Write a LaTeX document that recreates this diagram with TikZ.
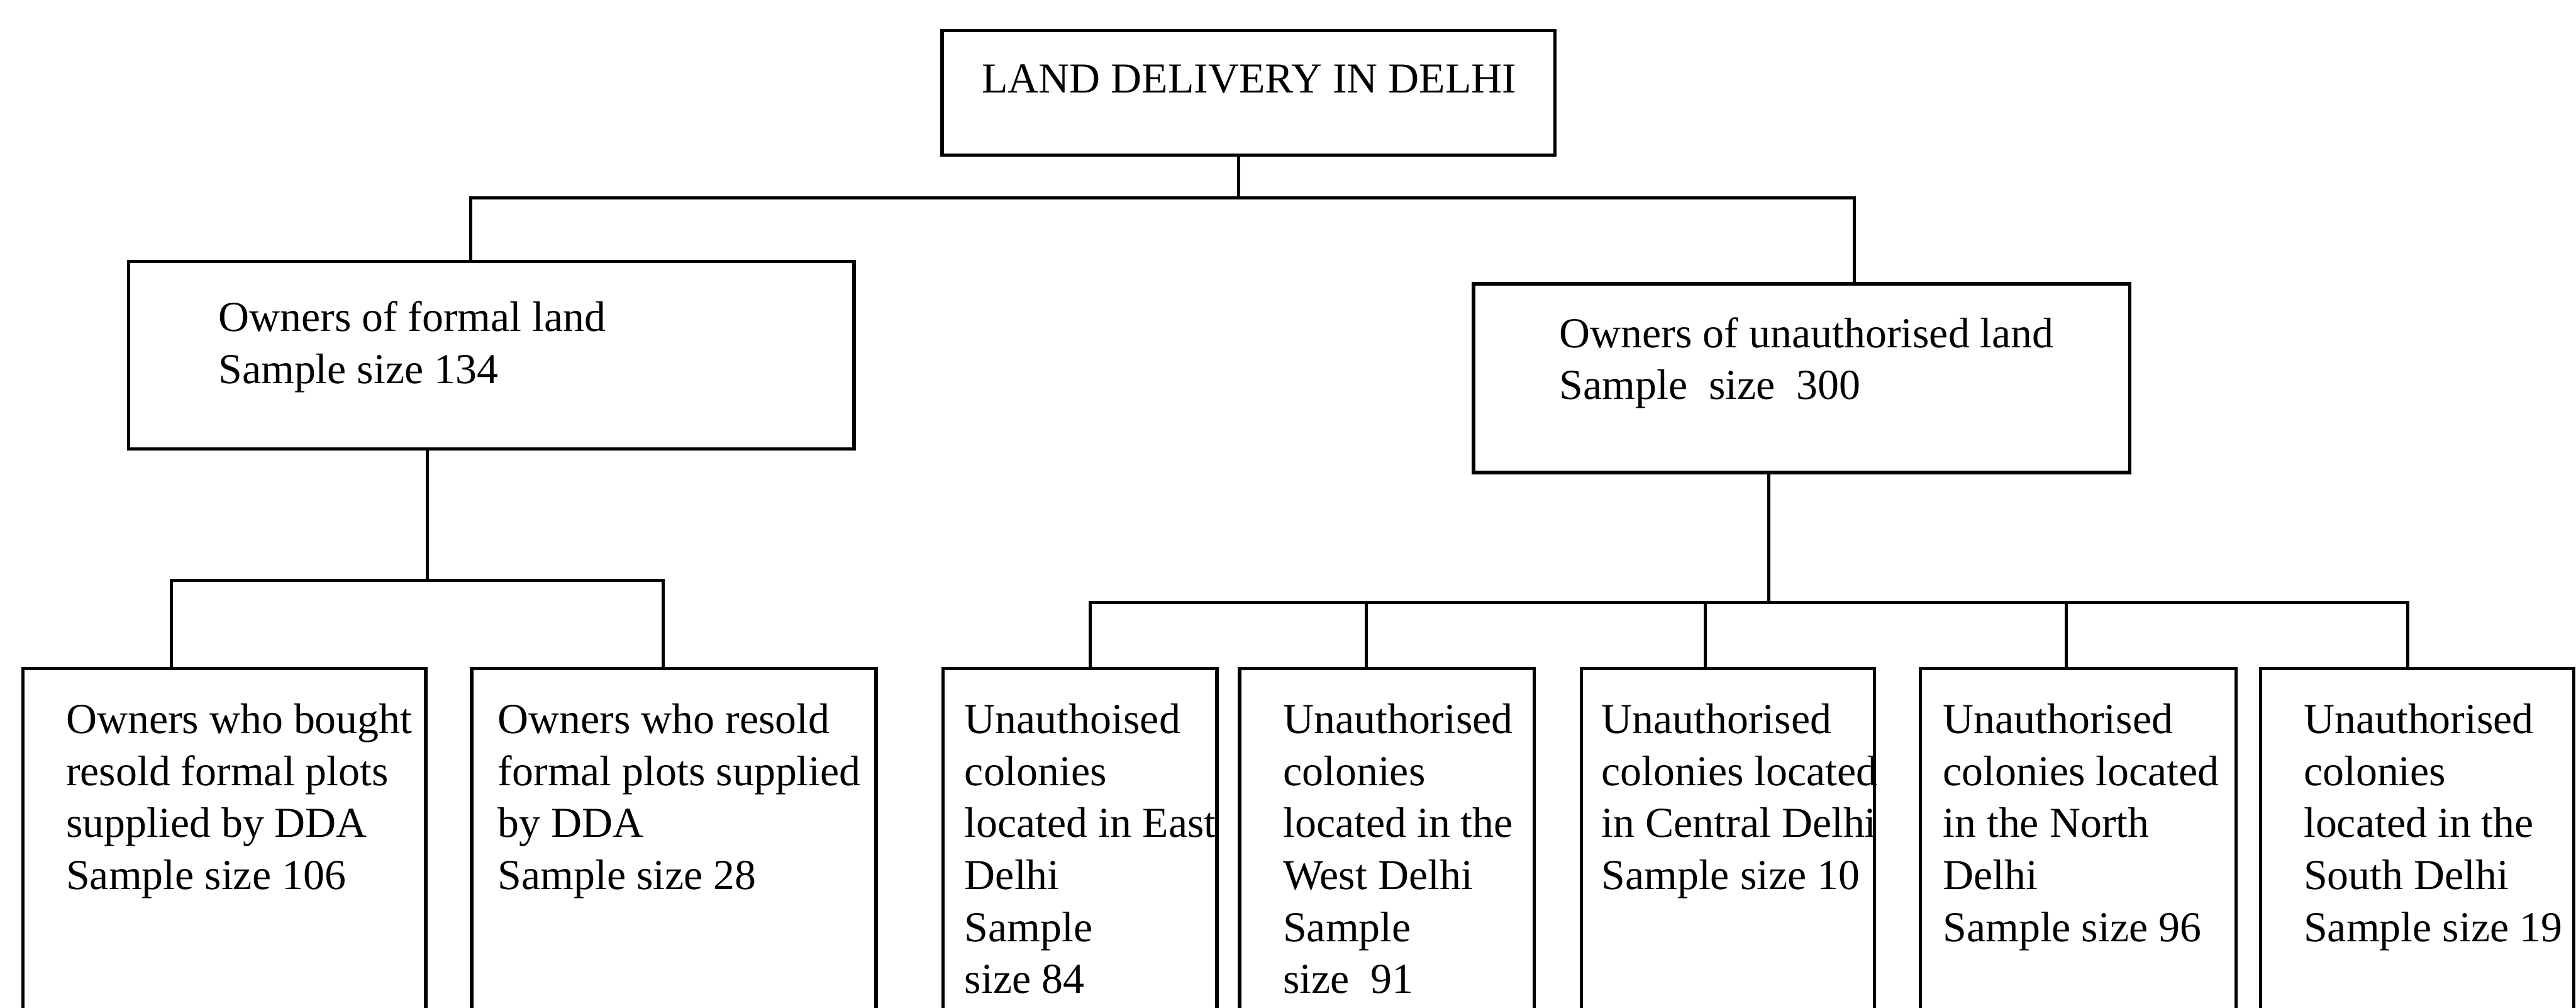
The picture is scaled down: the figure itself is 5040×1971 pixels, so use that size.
\documentclass[tikz,border=0pt]{standalone}
\usepackage{fontspec}
\setmainfont{Liberation Serif}
\usetikzlibrary{fit}
\begin{document}
\begin{tikzpicture}[x=0.1437pt,y=-0.1437pt,
  box/.style={draw, line width=0.95pt, inner sep=0pt, outer sep=0pt, rectangle},
  txt/.style={anchor=north west, inner sep=0pt, align=left, yshift=10.22pt,
    font=\fontsize{12}{14.6}\selectfont},
  conn/.style={line width=0.9pt, line join=miter}]
\useasboundingbox (0,0) rectangle (5040,1971);
\clip (0,0) rectangle (5040,1971);
% boxes
\node[box, fit={(1843,60) (3042,303)}] (top) {};
\node[box, fit={(252,511) (1671,878)}] (formal) {};
\node[box, fit={(2883,555) (4167,924)}] (unauth) {};
\node[box, fit={(45,1307) (833,2100)}] (b1) {};
\node[box, fit={(923,1307) (1714,2100)}] (b2) {};
\node[box, fit={(1845,1307) (2381,2100)}] (b3) {};
\node[box, fit={(2425,1307) (3002,2100)}] (b4) {};
\node[box, fit={(3094,1307) (3667,2100)}] (b5) {};
\node[box, fit={(3757,1307) (4375,2100)}] (b6) {};
\node[box, fit={(4423,1307) (5036,2100)}] (b7) {};
% texts
\node[txt] (ttop) at (1920,180) {\strut LAND DELIVERY IN DELHI};
\node[txt] (tformal) at (426,647) {\strut Owners of formal land\\Sample size 134};
\node[txt] (tunauth) at (3050,678) {\strut Owners of unauthorised land\\Sample~ size~ 300};
\node[txt] (tb1) at (128,1433) {\strut Owners who bought\\resold formal plots\\supplied by DDA\\Sample size 106};
\node[txt] (tb2) at (973,1433) {\strut Owners who resold\\formal plots supplied\\by DDA\\Sample size 28};
\node[txt] (tb3) at (1886,1433) {\strut Unauthoised\\colonies\\located in East\\Delhi\\Sample\\size 84};
\node[txt] (tb4) at (2509,1433) {\strut Unauthorised\\colonies\\located in the\\West Delhi\\Sample\\size~ 91};
\node[txt] (tb5) at (3132,1433) {\strut Unauthorised\\colonies located\\in Central Delhi\\Sample size 10};
\node[txt] (tb6) at (3800,1433) {\strut Unauthorised\\colonies located\\in the North\\Delhi\\Sample size 96};
\node[txt] (tb7) at (4506,1433) {\strut Unauthorised\\colonies\\located in the\\South Delhi\\Sample size 19};
% junctions
\coordinate (k0) at (2423,387);
\coordinate (kL) at (921,387);
\coordinate (kR) at (3628,387);
\coordinate (m0) at (836,1135);
\coordinate (m1) at (335,1135);
\coordinate (m2) at (1297,1135);
\coordinate (r0) at (3461,1178);
\coordinate (r1) at (2133,1178);
\coordinate (r2) at (2673,1178);
\coordinate (r3) at (3336,1178);
\coordinate (r4) at (4043,1178);
\coordinate (r5) at (4711,1178);
% connectors
\draw[conn] (top.south -| k0) -- (k0);
\draw[conn] (formal.north -| kL) -- (kL) -- (kR) -- (unauth.north -| kR);
\draw[conn] (formal.south -| m0) -- (m0);
\draw[conn] (b1.north -| m1) -- (m1) -- (m2) -- (b2.north -| m2);
\draw[conn] (unauth.south -| r0) -- (r0);
\draw[conn] (b3.north -| r1) -- (r1) -- (r5) -- (b7.north -| r5);
\draw[conn] (r2) -- (b4.north -| r2);
\draw[conn] (r3) -- (b5.north -| r3);
\draw[conn] (r4) -- (b6.north -| r4);
\end{tikzpicture}
\end{document}
